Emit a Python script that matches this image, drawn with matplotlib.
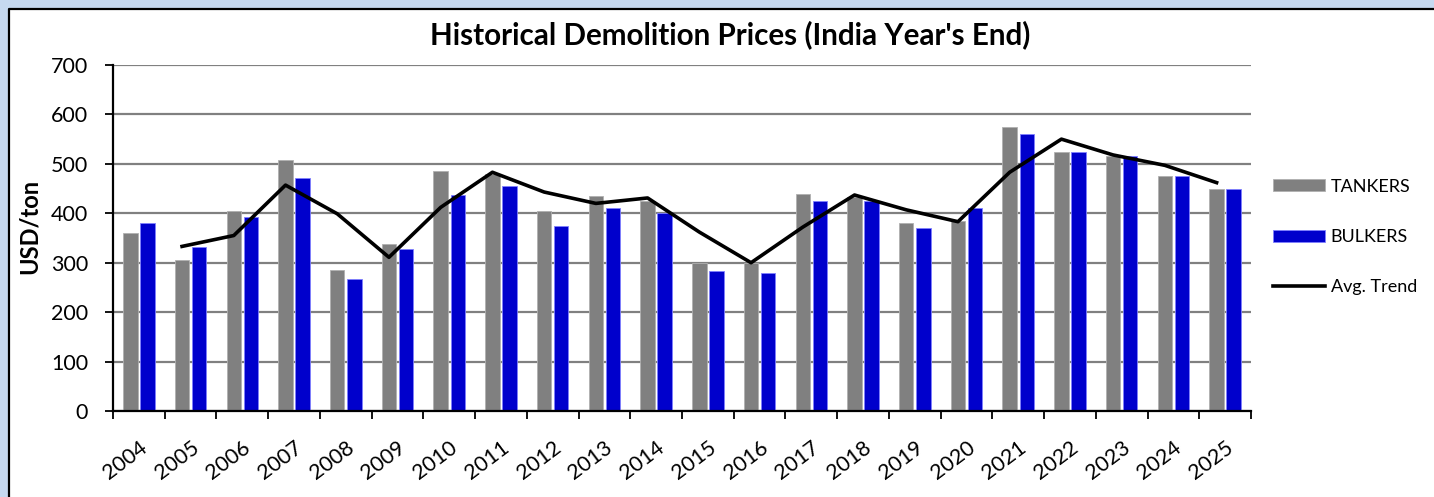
import numpy as np
import matplotlib.pyplot as plt
from matplotlib.patches import Rectangle
from matplotlib.lines import Line2D

years = [str(y) for y in range(2004, 2026)]
tankers = [360, 305, 405, 507, 286, 338, 485, 480, 405, 435, 425,
           300, 300, 440, 432, 380, 385, 575, 525, 515, 475, 450]
bulkers = [380, 331, 392, 472, 268, 328, 437, 456, 375, 410, 400,
           284, 280, 425, 425, 370, 410, 560, 525, 515, 475, 450]
trend_years = years[1:]
trend = [333, 355, 457, 399, 311, 412, 483, 443, 420, 431, 362,
         300, 372, 437, 407, 383, 483, 550, 518, 497, 462]

plt.rcParams['font.family'] = ['Lato', 'DejaVu Sans']

fig = plt.figure(figsize=(14.34, 4.97), dpi=100)
fig.patch.set_facecolor('#c6d9f0')
# white chart panel, border only on left and top
x0, y0 = 9 / 1434, 1 - 9 / 497
fig.patches.append(Rectangle((x0, 0), 1 - x0, y0, transform=fig.transFigure,
                             facecolor='white', edgecolor='none', zorder=-5))
fig.lines.append(Line2D([x0, x0, 1], [0, y0, y0], transform=fig.transFigure,
                        color='black', linewidth=1.6, zorder=-4))

ax = fig.add_axes([113 / 1434, 1 - 411 / 497, 1138 / 1434, 346 / 497])
ax.set_facecolor('none')
ax.set_zorder(2)

x = np.arange(len(years))
w = 0.28
b1 = ax.bar(x - 0.165, tankers, w, color='#808080', edgecolor='#b0b0b0', linewidth=0.6,
            label='TANKERS', zorder=2)
b2 = ax.bar(x + 0.165, bulkers, w, color='#0000cc', edgecolor='#8080ff', linewidth=0.6,
            label='BULKERS', zorder=2)
xt = np.array([years.index(y) for y in trend_years]) - 0.165
ln, = ax.plot(xt, trend, color='black', linewidth=2.6, label='Avg. Trend', zorder=3)

ax.set_xlim(-0.5, len(years) - 0.5)
ax.set_ylim(0, 700)
ax.set_yticks(range(0, 701, 100))
ax.tick_params(axis='y', labelsize=15.5, length=6, width=1.3, direction='out', pad=12)
ax.yaxis.grid(True, color='#808080', linewidth=1.6, zorder=1)
ax.set_axisbelow(True)

ax.set_xticks(x)
ax.set_xticklabels(years, rotation=37, ha='right', rotation_mode='anchor', fontsize=15.5)
ax.set_xticks(np.arange(len(years) + 1) - 0.5, minor=True)
ax.tick_params(axis='x', which='major', length=0, pad=19)
ax.tick_params(axis='x', which='minor', length=6, width=1.3, direction='out')

for s in ['top', 'right']:
    ax.spines[s].set_visible(False)
for s in ['left', 'bottom']:
    ax.spines[s].set_linewidth(1.6)
    ax.spines[s].set_color('black')

fig.text(730 / 1434, 1 - 35 / 497, "Historical Demolition Prices (India Year's End)",
         ha='center', va='center', fontsize=21.3, fontweight='bold')
fig.text(29 / 1434, 1 - 226 / 497, 'USD/ton', rotation=90, ha='center', va='center',
         fontsize=17, fontweight='bold')

fig.legend([b1, b2, ln], ['TANKERS', 'BULKERS', 'Avg. Trend'],
           loc='center left', bbox_to_anchor=(1273 / 1434, 1 - 237 / 497),
           frameon=False, fontsize=13, handlelength=2.9, handleheight=0.65,
           handletextpad=0.3, labelspacing=1.9, borderpad=0, borderaxespad=0)

fig.savefig('out.png', dpi=100, facecolor=fig.get_facecolor())
